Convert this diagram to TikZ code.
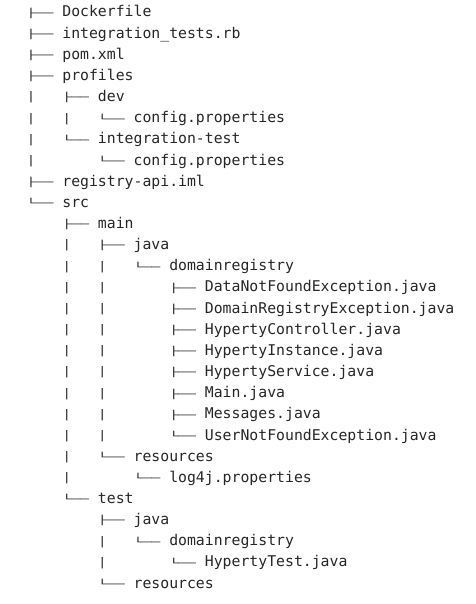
\documentclass[tikz,border=0pt]{standalone}
\usepackage{fontspec}
\usepackage{graphicx}
\newfontfamily\treefont{DejaVu Sans Mono}
% short tree glyphs, as in the screenshot
\newcommand\tbranch{\raisebox{0.7pt}{\scalebox{1}[0.6]{├──}}~}
\newcommand\tlast{\raisebox{0.7pt}{\scalebox{1}[0.6]{└──}}~}
\newcommand\tpipe{\raisebox{0.7pt}{\scalebox{1}[0.65]{│}}~~~}
\newcommand\tgap{~~~~}
\begin{document}
\begin{tikzpicture}[x=1pt, y=-1pt,
    entry/.style={anchor=base west, inner sep=0pt, text=black!85,
      font=\treefont\fontsize{14.8}{18}\selectfont}]
    \useasboundingbox (0,0) rectangle (475,604);
    % top level
    \node [entry] (dockerfile) at (26.5,17)     {\tbranch Dockerfile};
    \node [entry] (itests)     at (26.5,38.15)  {\tbranch integration\symbol{95}tests.rb};
    \node [entry] (pom)        at (26.5,59.3)   {\tbranch pom.xml};
    \node [entry] (profiles)   at (26.5,80.45)  {\tbranch profiles};
    \node [entry] (dev)        at (26.5,101.6)  {\tpipe\tbranch dev};
    \node [entry] (devcfg)     at (26.5,122.75) {\tpipe\tpipe\tlast config.properties};
    \node [entry] (itest)      at (26.5,143.9)  {\tpipe\tlast integration-test};
    \node [entry] (itestcfg)   at (26.5,165.05) {\tpipe\tgap\tlast config.properties};
    \node [entry] (iml)        at (26.5,186.2)  {\tbranch registry-api.iml};
    \node [entry] (src)        at (26.5,207.35) {\tlast src};
    % src/main
    \node [entry] (main)       at (26.5,228.5)  {\tgap\tbranch main};
    \node [entry] (mjava)      at (26.5,249.65) {\tgap\tpipe\tbranch java};
    \node [entry] (mdomreg)    at (26.5,270.8)  {\tgap\tpipe\tpipe\tlast domainregistry};
    \node [entry] (datanf)     at (26.5,291.95) {\tgap\tpipe\tpipe\tgap\tbranch DataNotFoundException.java};
    \node [entry] (domregex)   at (26.5,313.1)  {\tgap\tpipe\tpipe\tgap\tbranch DomainRegistryException.java};
    \node [entry] (hctrl)      at (26.5,334.25) {\tgap\tpipe\tpipe\tgap\tbranch HypertyController.java};
    \node [entry] (hinst)      at (26.5,355.4)  {\tgap\tpipe\tpipe\tgap\tbranch HypertyInstance.java};
    \node [entry] (hserv)      at (26.5,376.55) {\tgap\tpipe\tpipe\tgap\tbranch HypertyService.java};
    \node [entry] (mainjava)   at (26.5,397.7)  {\tgap\tpipe\tpipe\tgap\tbranch Main.java};
    \node [entry] (msgs)       at (26.5,418.85) {\tgap\tpipe\tpipe\tgap\tbranch Messages.java};
    \node [entry] (usernf)     at (26.5,440)    {\tgap\tpipe\tpipe\tgap\tlast UserNotFoundException.java};
    \node [entry] (mres)       at (26.5,461.15) {\tgap\tpipe\tlast resources};
    \node [entry] (log4j)      at (26.5,482.3)  {\tgap\tpipe\tgap\tlast log4j.properties};
    % src/test
    \node [entry] (test)       at (26.5,503.45) {\tgap\tlast test};
    \node [entry] (tjava)      at (26.5,524.6)  {\tgap\tgap\tbranch java};
    \node [entry] (tdomreg)    at (26.5,545.75) {\tgap\tgap\tpipe\tlast domainregistry};
    \node [entry] (htest)      at (26.5,566.9)  {\tgap\tgap\tpipe\tgap\tlast HypertyTest.java};
    \node [entry] (tres)       at (26.5,588.05) {\tgap\tgap\tlast resources};
\end{tikzpicture}
\end{document}
